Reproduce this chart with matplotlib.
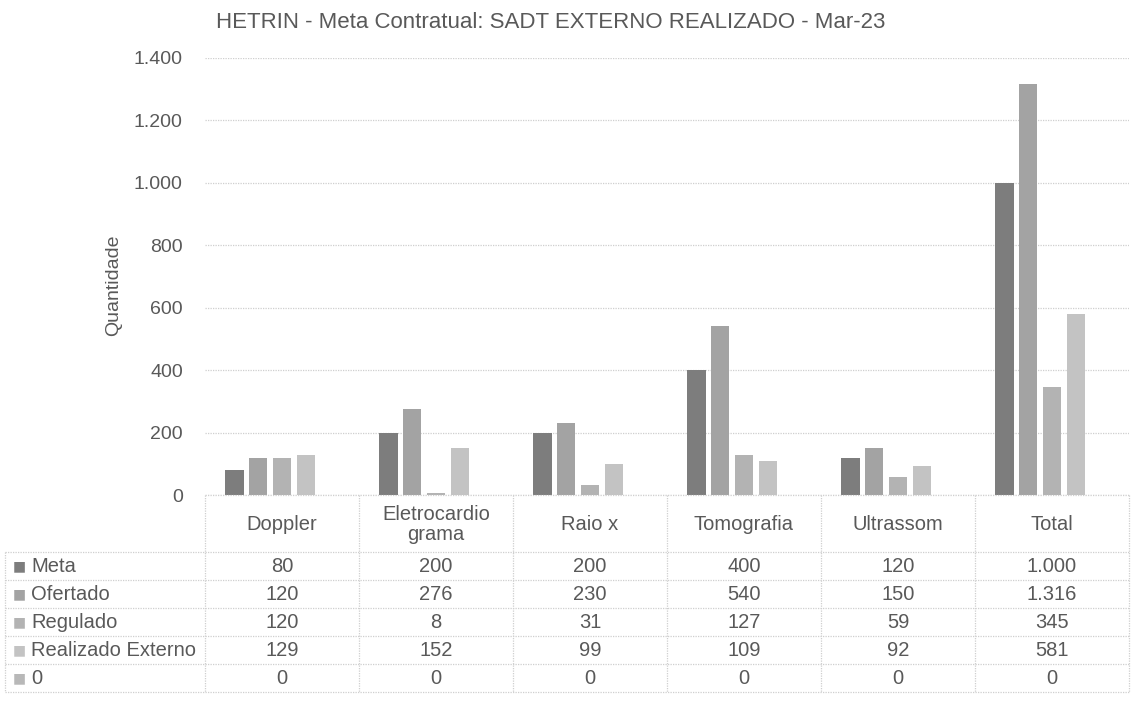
import numpy as np
import matplotlib.pyplot as plt
from matplotlib import transforms
from matplotlib.ticker import FuncFormatter

plt.rcParams['font.family'] = ['Liberation Sans', 'DejaVu Sans']

# dados da tabela
categorias = ['Doppler', 'Eletrocardio\ngrama', 'Raio x', 'Tomografia', 'Ultrassom', 'Total']
series = ['Meta', 'Ofertado', 'Regulado', 'Realizado Externo', '0']
meta = [80, 200, 200, 400, 120, 1000]
ofertado = [120, 276, 230, 540, 150, 1316]
regulado = [120, 8, 31, 127, 59, 345]
realizado = [129, 152, 99, 109, 92, 581]
zero = [0, 0, 0, 0, 0, 0]
valores = [meta, ofertado, regulado, realizado, zero]
cores = ['#7d7d7d', '#a3a3a3', '#b3b3b3', '#c3c3c3', '#b8b8b8']

W, H = 1131, 708
fig = plt.figure(figsize=(W / 100, H / 100), dpi=100)
fy = lambda py: 1 - py / H
fx = lambda px: px / W

base = 495
ax = fig.add_axes([fx(205), fy(base), fx(1129) - fx(205), fy(58) - fy(base)])

txt = '#595959'
linha = '#cfcfcf'
fs = 14.5

def fmt(v, pos=None):
    return f"{int(v):,}".replace(',', '.')

x = np.arange(len(categorias))
slot = 0.154
for k, (nome, vals) in enumerate(zip(series, valores)):
    ax.bar(x + (k - 2) * slot, vals, width=0.118, color=cores[k], zorder=3)

ax.set_xlim(-0.5, len(categorias) - 0.5)
ax.set_ylim(0, 1400)
ax.set_yticks(range(0, 1401, 200))
ax.yaxis.set_major_formatter(FuncFormatter(fmt))
ax.tick_params(axis='y', length=0, pad=16, labelsize=14, labelcolor=txt)
ax.set_xticks([])
ax.grid(axis='y', color=linha, linestyle=(0, (1, 1)), linewidth=0.9)
for s in ax.spines.values():
    s.set_visible(False)

fig.text(fx(114), fy(285), 'Quantidade', rotation=90, ha='center', va='center',
         fontsize=14, color=txt)
fig.text(fx(551), fy(22), 'HETRIN - Meta Contratual: SADT EXTERNO REALIZADO - Mar-23',
         ha='center', va='center', fontsize=16, color=txt)

# tabela de dados
tr = transforms.blended_transform_factory(ax.transData, fig.transFigure)
topo_linhas = 552
alt = 28
fundo = topo_linhas + alt * len(series)
lkw = dict(color=linha, linewidth=0.9, linestyle=(0, (1, 1)), clip_on=False)

# linhas horizontais
fig.add_artist(plt.Line2D([fx(205), fx(1129)], [fy(base), fy(base)], **lkw))
for r in range(len(series) + 1):
    yy = fy(topo_linhas + r * alt)
    fig.add_artist(plt.Line2D([fx(5), fx(1129)], [yy, yy], **lkw))
# linhas verticais
for i in range(len(categorias) + 1):
    xx = i - 0.5
    ax.add_artist(plt.Line2D([xx, xx], [fy(base), fy(fundo)], transform=tr, **lkw))
fig.add_artist(plt.Line2D([fx(5), fx(5)], [fy(topo_linhas), fy(fundo)], **lkw))

for i, c in enumerate(categorias):
    ax.text(i, fy((base + topo_linhas) / 2 + 1), c, transform=tr, ha='center', va='center',
            fontsize=fs, color=txt, linespacing=1.1)

for r, (nome, vals) in enumerate(zip(series, valores)):
    yc = fy(topo_linhas + r * alt + alt / 2)
    fig.text(fx(13), yc, '■', ha='left', va='center', fontsize=10, color=cores[r],
             family=['DejaVu Sans'])
    fig.text(fx(31), yc, nome, ha='left', va='center', fontsize=fs, color=txt)
    for i, v in enumerate(vals):
        ax.text(i, yc, fmt(v), transform=tr, ha='center', va='center',
                fontsize=fs, color=txt)

fig.savefig('out.png', dpi=100, facecolor='white')
